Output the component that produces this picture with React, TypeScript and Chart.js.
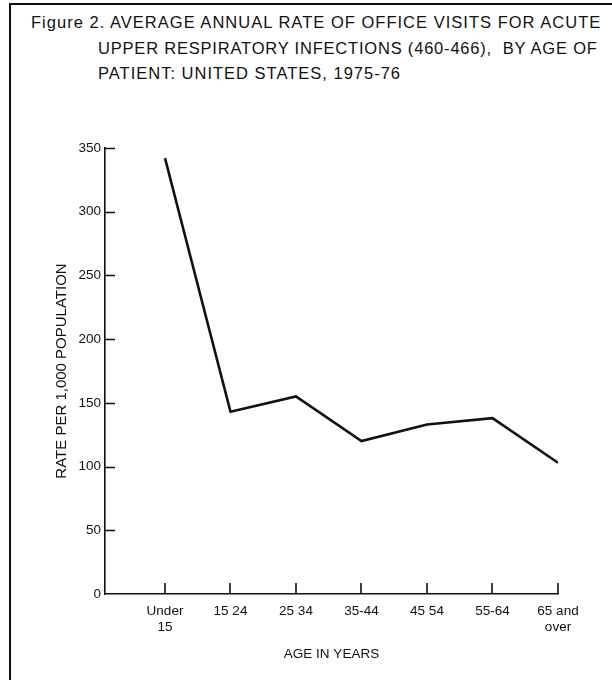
import React, { useEffect, useRef } from "react";
import { Chart, registerables } from "chart.js";

Chart.register(...registerables);

const titleLines = [
  "Figure 2. AVERAGE ANNUAL RATE OF OFFICE VISITS FOR ACUTE",
  "UPPER RESPIRATORY INFECTIONS (460-466),  BY AGE OF",
  "PATIENT: UNITED STATES, 1975-76",
];
const ageGroups: (string | string[])[] = [
  ["Under", "15"],
  "15 24",
  "25 34",
  "35-44",
  "45 54",
  "55-64",
  ["65 and", "over"],
];
const ratePer1000 = [342, 143, 155, 120, 133, 138, 103];
const yTickValues = [0, 50, 100, 150, 200, 250, 300, 350];
const yAxisTitle = "RATE PER 1,000 POPULATION";
const xAxisTitle = "AGE IN YEARS";

const INK = "#111111";
const FONT = "'Liberation Sans', Arial, Helvetica, sans-serif";

const inwardTicks = {
  id: "inwardTicks",
  afterDatasetsDraw(chart: any) {
    const { ctx, scales } = chart;
    const x = scales.x;
    const y = scales.y;
    ctx.save();
    ctx.strokeStyle = INK;
    ctx.lineWidth = 1.6;
    ctx.beginPath();
    y.ticks.forEach((t: any) => {
      if (t.value === 0) return;
      const py = Math.round(y.getPixelForValue(t.value)) + 0.5;
      ctx.moveTo(y.right, py);
      ctx.lineTo(y.right + 10, py);
    });
    x.ticks.forEach((t: any) => {
      const px = Math.round(x.getPixelForValue(t.value));
      ctx.moveTo(px, x.top);
      ctx.lineTo(px, x.top - 11);
    });
    ctx.stroke();
    ctx.restore();
  },
};

export default function App() {
  const canvasRef = useRef<HTMLCanvasElement | null>(null);

  useEffect(() => {
    if (!canvasRef.current) return;
    const chart = new Chart(canvasRef.current, {
      type: "line",
      data: {
        datasets: [
          {
            data: ratePer1000.map((v, i) => ({ x: i, y: v })),
            borderColor: INK,
            borderWidth: 2.6,
            pointRadius: 0,
            tension: 0,
            fill: false,
          },
        ],
      },
      options: {
        animation: false,
        responsive: true,
        maintainAspectRatio: false,
        layout: { padding: { top: 148, right: 54, left: 0, bottom: 0 } },
        plugins: {
          legend: { display: false },
          tooltip: { enabled: false },
          title: { display: false },
        },
        scales: {
          x: {
            type: "linear",
            min: -0.916,
            max: ageGroups.length - 1,
            afterBuildTicks: (scale: any) => {
              scale.ticks = ageGroups.map((_, i) => ({ value: i }));
            },
            afterFit: (scale: any) => {
              scale.height = 86;
            },
            grid: { display: false, drawTicks: false },
            border: { display: true, color: INK, width: 1.6 },
            ticks: {
              autoSkip: false,
              maxRotation: 0,
              padding: 9,
              color: INK,
              font: { family: FONT, size: 13.5 },
              callback: (v: any) => ageGroups[v as number] ?? "",
            },
            title: {
              display: true,
              text: xAxisTitle,
              color: INK,
              font: { family: FONT, size: 13.5 },
              padding: { top: 0, bottom: 18 },
            },
          },
          y: {
            min: 0,
            max: 350,
            afterBuildTicks: (scale: any) => {
              scale.ticks = yTickValues.map((v) => ({ value: v }));
            },
            afterFit: (scale: any) => {
              scale.width = 105;
            },
            grid: { display: false, drawTicks: false },
            border: { display: true, color: INK, width: 1.6 },
            ticks: {
              padding: 4,
              color: INK,
              font: { family: FONT, size: 13.5 },
            },
            title: {
              display: true,
              text: yAxisTitle,
              color: INK,
              font: { family: FONT, size: 15 },
              padding: { top: 53, bottom: 0 },
            },
          },
        },
      },
      plugins: [inwardTicks],
    });
    return () => chart.destroy();
  }, []);

  const titleStyle = (left: number, top: number, spacing: number): React.CSSProperties => ({
    position: "absolute",
    left,
    top,
    fontFamily: FONT,
    fontSize: 16.5,
    letterSpacing: `${spacing}px`,
    lineHeight: "18px",
    color: INK,
    whiteSpace: "pre",
  });

  return (
    <div
      style={{
        position: "absolute",
        left: 0,
        top: 0,
        width: 612,
        height: 680,
        background: "#fff",
        overflow: "hidden",
      }}
    >
      <div
        style={{
          position: "absolute",
          left: 9,
          top: 3,
          right: 0,
          bottom: 0,
          borderTop: `2px solid ${INK}`,
          borderLeft: `2px solid ${INK}`,
        }}
      />
      <div style={titleStyle(31, 13, 1.02)}>{titleLines[0]}</div>
      <div style={titleStyle(98, 39, 0.8)}>{titleLines[1]}</div>
      <div style={titleStyle(98, 64, 1.0)}>{titleLines[2]}</div>
      <div style={{ position: "absolute", left: 0, top: 0, width: 612, height: 680 }}>
        <canvas ref={canvasRef} />
      </div>
    </div>
  );
}
